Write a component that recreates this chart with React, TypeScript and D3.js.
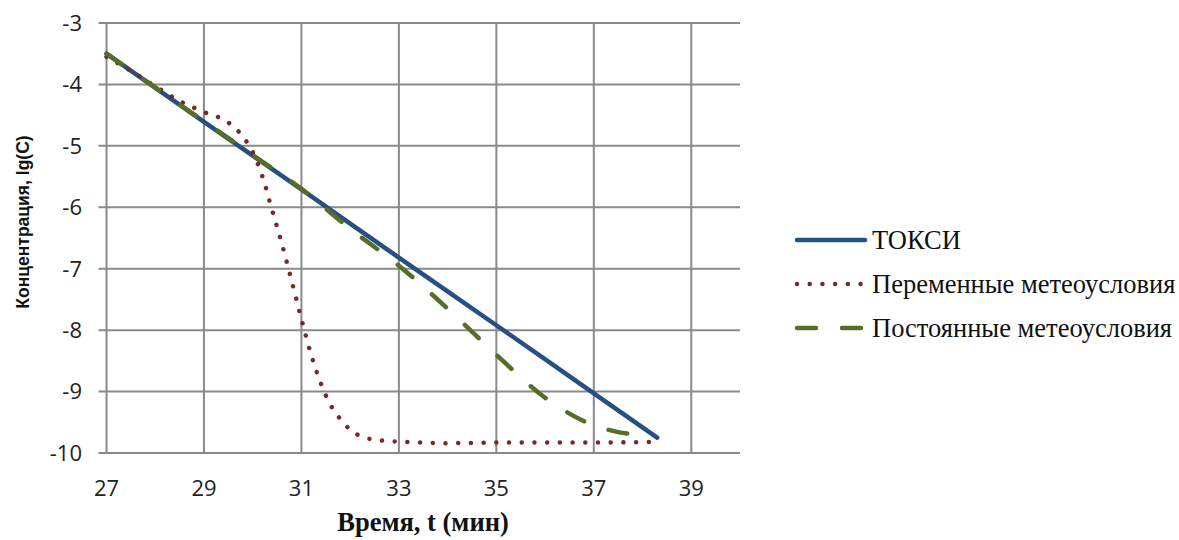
import * as d3 from 'd3';

// Время, мин / lg(C) для трёх расчётов
const toxiT = [27, 29, 31, 33, 35, 37, 38.3];
const toxiC = [-3.5, -4.61, -5.71, -6.82, -7.92, -9.03, -9.75];

const varT = [27, 27.5, 28, 28.5, 29, 29.5, 29.8, 30, 30.2, 30.4, 30.6, 30.8, 31, 31.2, 31.4, 31.6, 31.8, 32, 32.3, 32.7, 33.5, 34, 35, 36, 37, 38.2];
const varC = [-3.55, -3.78, -4.03, -4.27, -4.45, -4.62, -4.85, -5.1, -5.5, -6.05, -6.6, -7.2, -7.82, -8.4, -8.87, -9.22, -9.45, -9.62, -9.75, -9.8, -9.83, -9.84, -9.83, -9.83, -9.83, -9.82];

const constT = [27, 28, 29, 30, 31, 32, 33, 34, 35, 36, 37, 37.5, 38, 38.2];
const constC = [-3.5, -4.05, -4.6, -5.15, -5.7, -6.35, -6.95, -7.65, -8.4, -9.1, -9.55, -9.66, -9.72, -9.76];

const xTicks = [27, 29, 31, 33, 35, 37, 39];
const yTicks = [-3, -4, -5, -6, -7, -8, -9, -10];

const seriesNames = ['ТОКСИ', 'Переменные метеоусловия', 'Постоянные метеоусловия'];

const W = 1179;
const H = 540;
const plot = { left: 106.5, right: 740, top: 23, bottom: 453 };
const grid = '#8a8a8a';
const numFont = '"Open Sans", "Liberation Sans", sans-serif';
const serif = '"Liberation Serif", serif';

const styles = [
  { color: '#264f82', width: 4.5, dash: undefined as string | undefined },
  { color: '#76282a', width: 4.5, dash: '0.01 12.7' },
  { color: '#566e27', width: 4.5, dash: '19 26' },
];

export default function App() {
  const x = d3.scaleLinear().domain([27, 40]).range([plot.left, plot.right]);
  const y = d3.scaleLinear().domain([-3, -10]).range([plot.top, plot.bottom]);

  const mk = (ts: number[], cs: number[]) => ts.map((t, i) => [t, cs[i]] as [number, number]);
  const line = d3.line<[number, number]>()
    .x((d) => x(d[0]))
    .y((d) => y(d[1]))
    .curve(d3.curveMonotoneX);

  const paths = [mk(toxiT, toxiC), mk(varT, varC), mk(constT, constC)];

  return (
    <svg width={W} height={H} style={{ position: 'absolute', left: 0, top: 0, background: '#fff' }}>
      {/* grid */}
      {yTicks.map((v) => (
        <line key={'h' + v} x1={plot.left - 8} x2={plot.right} y1={y(v)} y2={y(v)} stroke={grid} strokeWidth={2} />
      ))}
      {xTicks.map((v) => (
        <line key={'v' + v} x1={x(v)} x2={x(v)} y1={plot.top} y2={plot.bottom} stroke={grid} strokeWidth={2} />
      ))}

      {/* tick labels */}
      {yTicks.map((v) => (
        <text key={'yl' + v} x={82} y={y(v)} dy="0.36em" textAnchor="end" fontFamily={numFont} fontSize={22} fill="#222">
          {v}
        </text>
      ))}
      {xTicks.map((v) => (
        <text key={'xl' + v} x={x(v)} y={496} textAnchor="middle" fontFamily={numFont} fontSize={22} fill="#222">
          {v}
        </text>
      ))}

      {/* series */}
      {paths.map((p, i) => (
        <path key={'s' + i} d={line(p) ?? ''} fill="none" stroke={styles[i].color} strokeWidth={styles[i].width}
          strokeDasharray={styles[i].dash} strokeLinecap="round" strokeLinejoin="round" />
      ))}

      {/* axis titles */}
      <text x={423} y={531} textAnchor="middle" fontFamily={serif} fontWeight="bold" fontSize={26.5} fill="#111">
        Время, t (мин)
      </text>
      <text transform="translate(29,222) rotate(-90)" textAnchor="middle"
        fontFamily='"Liberation Sans", Arial, sans-serif' fontWeight="bold" fontSize={17.5} fill="#111">
        Концентрация, lg(C)
      </text>

      {/* legend */}
      {seriesNames.map((name, i) => {
        const ly = 240 + i * 44;
        return (
          <g key={'lg' + i}>
            <line x1={797} x2={865} y1={ly} y2={ly} stroke={styles[i].color} strokeWidth={styles[i].width}
              strokeDasharray={styles[i].dash} strokeLinecap="round" />
            <text x={872} y={ly} dy="0.35em" fontFamily={serif} fontSize={26.5} fill="#111">{name}</text>
          </g>
        );
      })}
    </svg>
  );
}
